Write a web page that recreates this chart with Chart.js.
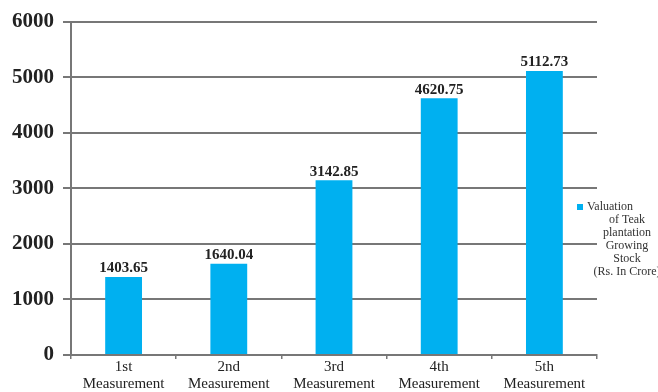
<!DOCTYPE html>
<html>
<head>
<meta charset="utf-8">
<script src="https://cdn.jsdelivr.net/npm/chart.js@4"></script>
<style>
  html, body { margin: 0; padding: 0; background: #fff; }
  #wrap { width: 658px; height: 392px; position: relative; }
</style>
</head>
<body>
<div id="wrap"><canvas id="chart" width="658" height="392"></canvas></div>
<script>
const categories = [
  ['1st', 'Measurement'],
  ['2nd', 'Measurement'],
  ['3rd', 'Measurement'],
  ['4th', 'Measurement'],
  ['5th', 'Measurement']
];
const valuation = [1403.65, 1640.04, 3142.85, 4620.75, 5112.73];
const seriesName = ['Valuation', 'of Teak', 'plantation', 'Growing', 'Stock', '(Rs. In Crore)'];
const yTicks = [0, 1000, 2000, 3000, 4000, 5000, 6000];

const barBlue = '#00b0f0';
const serif = "'Liberation Serif', 'DejaVu Serif', serif";

// value printed above each bar
const barValues = {
  id: 'barValues',
  afterDatasetsDraw(chart) {
    const ctx = chart.ctx;
    const meta = chart.getDatasetMeta(0);
    ctx.save();
    ctx.font = 'bold 15px ' + serif;
    ctx.fillStyle = '#222';
    ctx.textAlign = 'center';
    ctx.textBaseline = 'bottom';
    meta.data.forEach((bar, i) => {
      ctx.fillText(valuation[i].toFixed(2), bar.x, bar.y - 1);
    });
    ctx.restore();
  }
};

// small legend on the right, with a wrapped series name
const sideLegend = {
  id: 'sideLegend',
  afterDraw(chart) {
    const ctx = chart.ctx;
    const x = 627, y0 = 207, lh = 13;
    ctx.save();
    ctx.fillStyle = barBlue;
    ctx.fillRect(577, y0 - 3, 6, 6);
    ctx.font = '12px ' + serif;
    ctx.fillStyle = '#333';
    ctx.textBaseline = 'middle';
    ctx.textAlign = 'left';
    ctx.fillText(seriesName[0], 587, y0);
    ctx.textAlign = 'center';
    seriesName.slice(1).forEach((line, i) => {
      ctx.fillText(line, x, y0 + lh * (i + 1));
    });
    ctx.restore();
  }
};

new Chart(document.getElementById('chart'), {
  type: 'bar',
  data: {
    labels: categories,
    datasets: [{
      label: seriesName.join(' '),
      data: valuation,
      backgroundColor: barBlue,
      borderWidth: 0,
      barPercentage: 0.7,
      categoryPercentage: 0.5
    }]
  },
  options: {
    responsive: false,
    animation: false,
    layout: { padding: { left: 3, right: 61, top: 12, bottom: 0 } },
    plugins: {
      legend: { display: false },
      tooltip: { enabled: false }
    },
    scales: {
      x: {
        grid: {
          offset: true,
          drawOnChartArea: false,
          color: '#777',
          lineWidth: 1.5,
          tickLength: 4
        },
        border: { color: '#777', width: 2 },
        ticks: {
          font: { family: serif, size: 15, lineHeight: 1.1 },
          color: '#222',
          padding: 0,
          maxRotation: 0
        }
      },
      y: {
        min: 0,
        max: 6000,
        afterBuildTicks(axis) {
          axis.ticks = yTicks.map(v => ({ value: v }));
        },
        grid: {
          color: '#777',
          lineWidth: 2,
          tickLength: 8
        },
        border: { color: '#777', width: 2 },
        ticks: {
          font: { family: serif, size: 21, weight: 'bold' },
          color: '#222',
          padding: 9,
          callback: v => String(v)
        }
      }
    }
  },
  plugins: [barValues, sideLegend]
});
</script>
</body>
</html>
